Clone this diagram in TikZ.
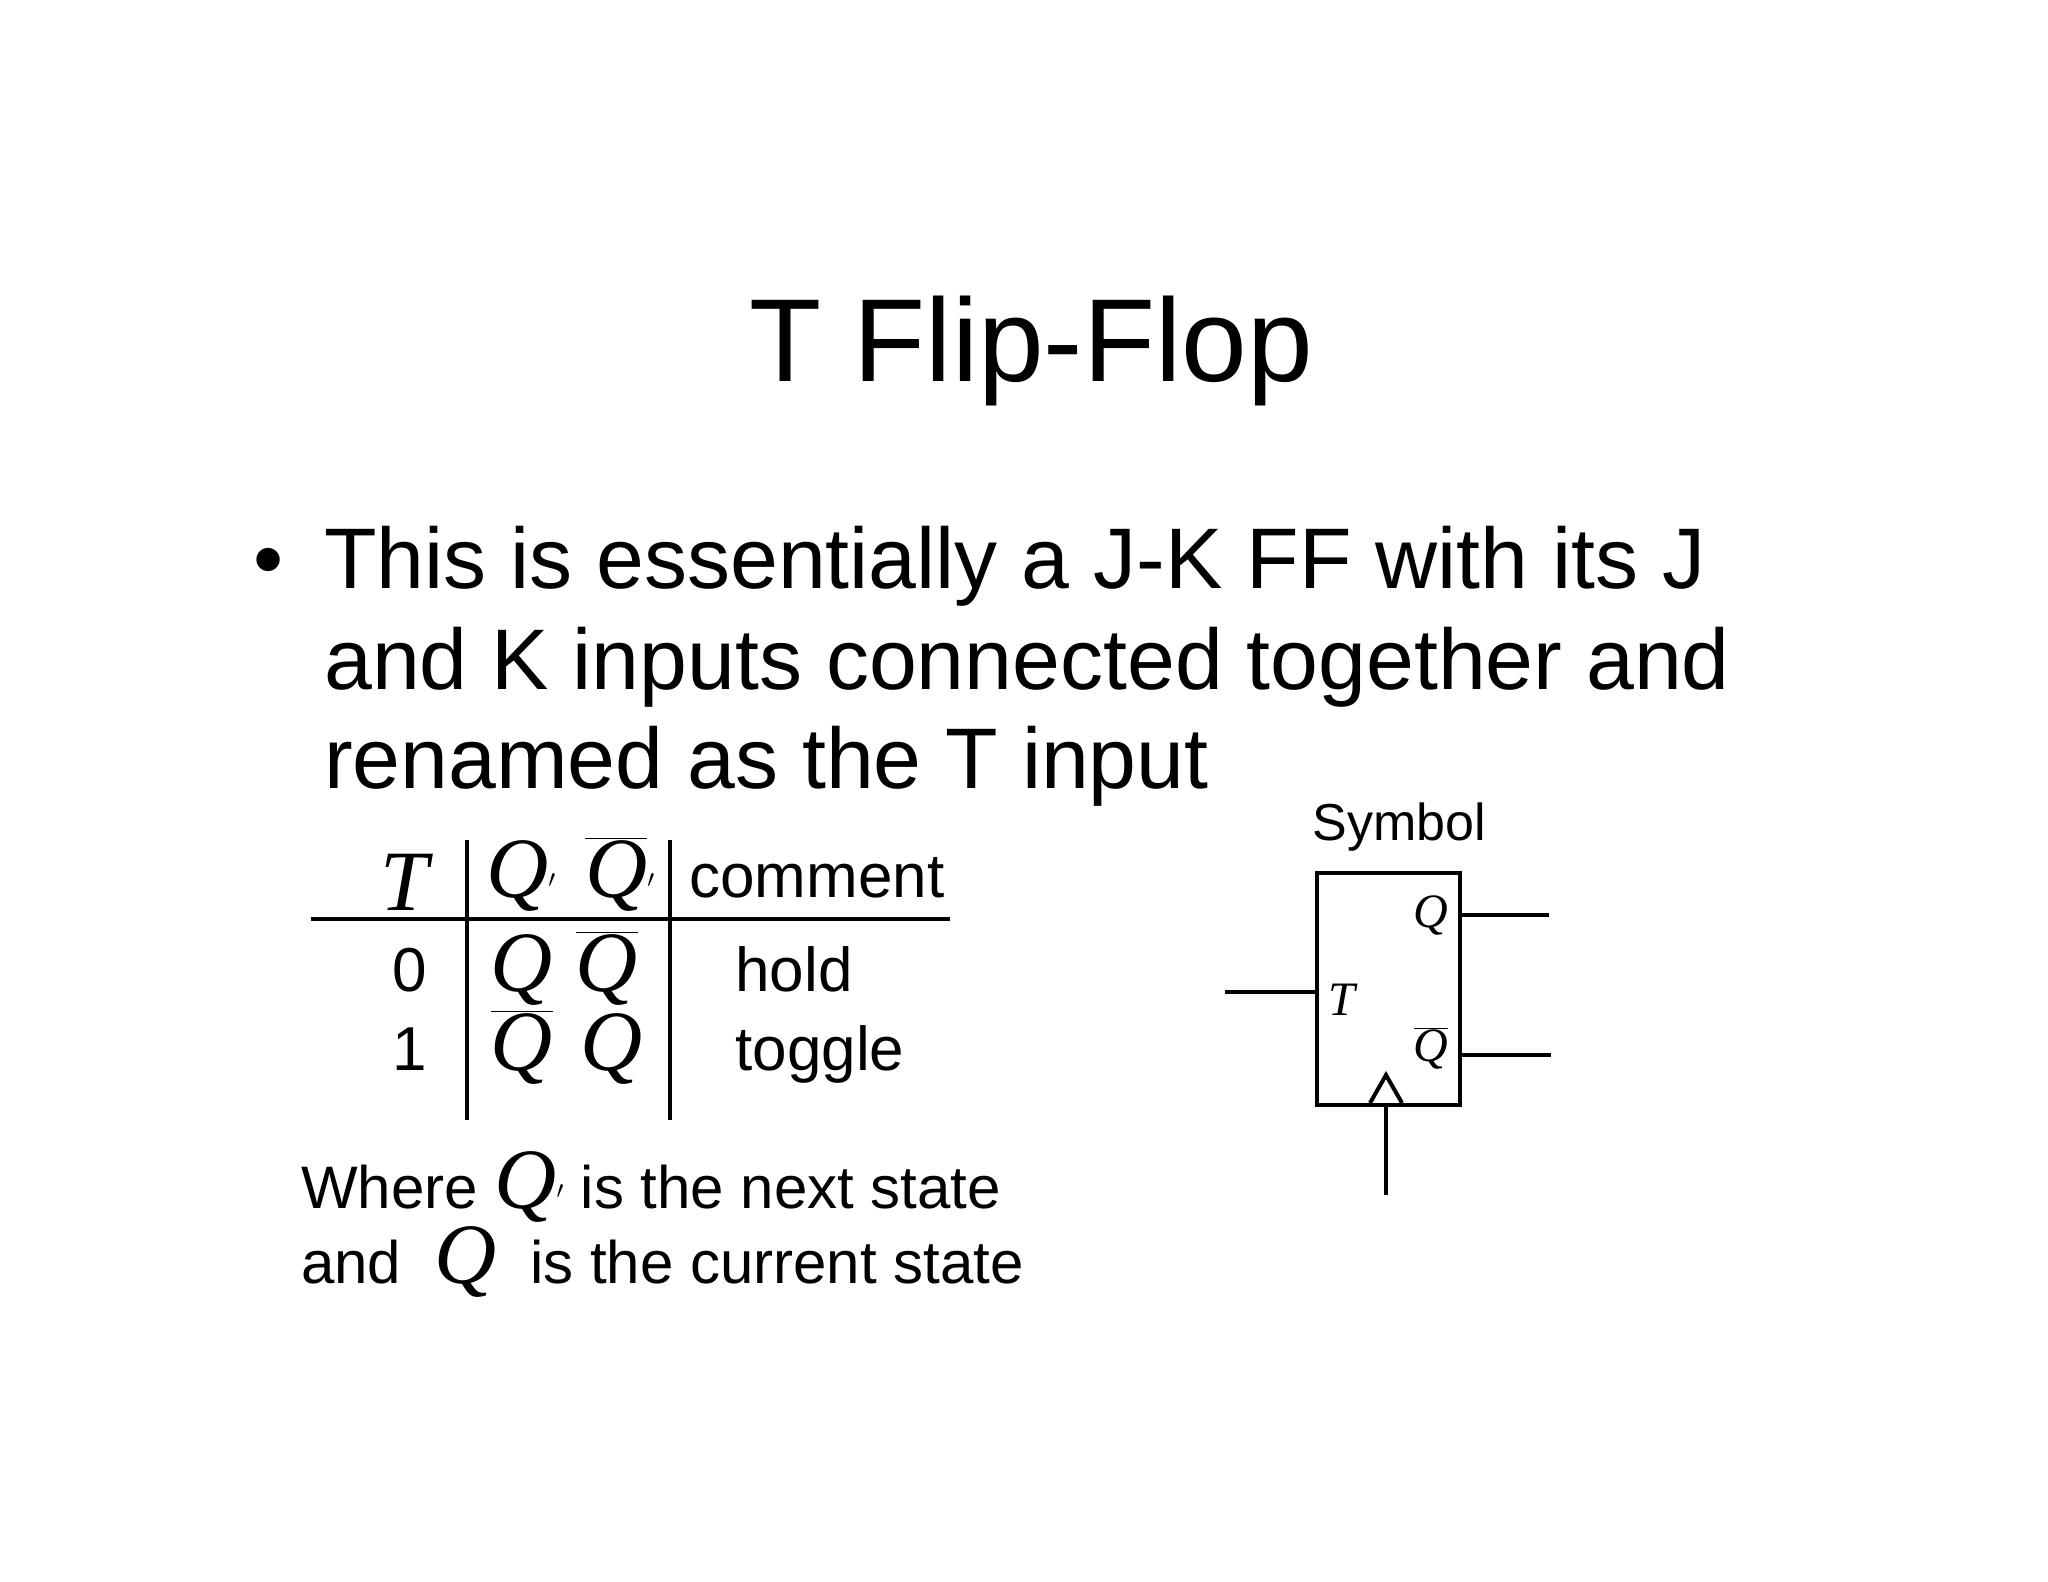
\documentclass[tikz,border=0pt]{standalone}
\usepackage{fontspec}
\setmainfont{Liberation Sans}
\newfontfamily\serifit{Liberation Serif}[ItalicFont={* Italic}]
\newcommand{\qq}{{\serifit\itshape Q}}
\newcommand{\qb}{$\overline{\mbox{\serifit\itshape Q}}$}
\begin{document}
\begin{tikzpicture}[x=1pt,y=-1pt,
  ln/.style={line width=4pt},
  tbl/.style={anchor=base,font=\fontsize{62}{62}\selectfont},
  mq/.style={anchor=base,font=\fontsize{86}{86}\selectfont},
  lbl/.style={font=\fontsize{48}{48}\selectfont}]
\useasboundingbox (0,0) rectangle (2048,1582);
\node[anchor=base,font=\fontsize{118}{118}\selectfont] (title) at (1031,381) {T Flip-Flop};
\node[anchor=base,font=\fontsize{86}{86}\selectfont] (bul) at (269,588) {\textbullet};
\node[anchor=base west,inner sep=0,font=\fontsize{86}{86}\selectfont] (l1) at (324,588) {This is essentially a J-K FF with its J};
\node[anchor=base west,inner sep=0,font=\fontsize{86}{86}\selectfont] (l2) at (324,689) {and K inputs connected together and};
\node[anchor=base west,inner sep=0,font=\fontsize{86}{86}\selectfont] (l3) at (324,788) {renamed as the T input};
% table
\draw[ln] (311,919) -- (950,919);
\draw[ln] (467,840) -- (467,1120);
\draw[ln] (670,840) -- (670,1120);
\node[mq] (hT) at (404,910) {{\serifit\itshape T}};
\node[mq] (hQ) at (521,897) {\qq$'$};
\node[mq] (hQb) at (620,897) {\qb$'$};
\node[tbl] (hc) at (817,897) {comment};
\node[tbl] (r0) at (410,991) {0};
\node[mq] (r0a) at (522,991) {\qq};
\node[mq] (r0b) at (607,991) {\qb};
\node[tbl] (r0c) at (794,991) {hold};
\node[tbl] (r1) at (410,1070) {1};
\node[mq] (r1a) at (522,1070) {\qb};
\node[mq] (r1b) at (612,1070) {\qq};
\node[tbl] (r1c) at (820,1070) {toggle};
\node[anchor=base west,inner sep=0,font=\fontsize{60}{60}\selectfont] (w1) at (301,1208) {Where \fontsize{86}{86}\selectfont\qq$'$\fontsize{60}{60}\selectfont\ is the next state};
\node[anchor=base west,inner sep=0,font=\fontsize{60}{60}\selectfont] (w2) at (301,1283) {and \ \fontsize{86}{86}\selectfont\qq\fontsize{60}{60}\selectfont\ \ is the current state};
% symbol
\node[anchor=base,font=\fontsize{52}{52}\selectfont] (sym) at (1399,840) {Symbol};
\node[draw,ln,minimum width=143pt,minimum height=232pt,inner sep=0,anchor=north west] (ff) at (1315,871) {};
\coordinate (qo) at (1549,915);
\coordinate (qbo) at (1551,1055);
\coordinate (ti) at (1225,992);
\coordinate (ck) at (1386,1195);
\draw[ln] (ff.east |- qo) -- (qo);
\draw[ln] (1462,1055) -- (qbo);
\draw[ln] (ti) -- (ff.west |- ti);
\draw[ln] (ck) -- (ff.south -| ck);
\draw[ln] (1370,1103) -- (1386,1075) -- (1402,1103);
\node[lbl,anchor=east] (fq) at (1452,915) {\qq};
\node[lbl,anchor=west] (ft) at (1325,1000) {{\serifit\itshape T}};
\node[lbl,anchor=east] (fqb) at (1452,1048) {\qb};
\end{tikzpicture}
\end{document}
